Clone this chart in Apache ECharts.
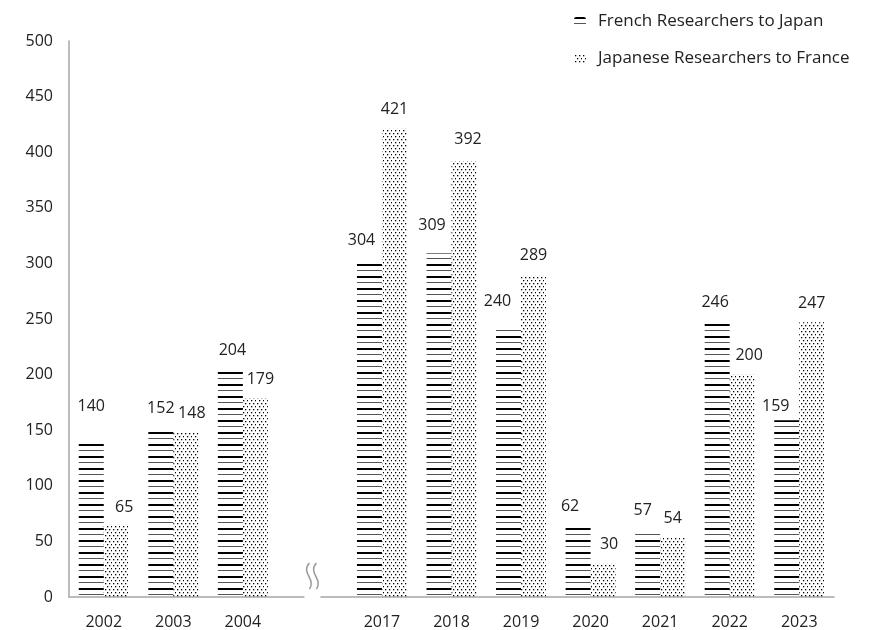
<!DOCTYPE html>
<html>
<head>
<meta charset="utf-8">
<script src="https://cdn.jsdelivr.net/npm/echarts@6/dist/echarts.min.js"></script>
<style>
  html, body { margin: 0; padding: 0; background: #fff; }
  #main { width: 870px; height: 630px; }
</style>
</head>
<body>
<div id="main"></div>
<script>
// years, the empty slot is where the axis break goes
const years = ["2002", "2003", "2004", "", "2017", "2018", "2019", "2020", "2021", "2022", "2023"];
const frenchToJapan = [140, 152, 204, null, 304, 309, 240, 62, 57, 246, 159];
const japaneseToFrance = [65, 148, 179, null, 421, 392, 289, 30, 54, 200, 247];
const seriesNames = ["French Researchers to Japan", "Japanese Researchers to France"];
const breakIndex = 3;

// the value labels were moved by hand in the original, [dx, dy] from bar top centre
const frenchLabelNudge = [[0, -35], [0, -20], [2, -20], null, [-8, -19], [-7, -28], [-11, -29], [-8, -22], [-5, -23], [-2, -21], [-11, -14]];
const japaneseLabelNudge = [[8, -17], [6, -19], [5, -19], null, [0, -19], [4, -22], [0, -20], [6, -19], [0, -19], [7, -19], [0, -19]];

const FONT = "Open Sans";

// horizontal line fill (thick / thin lines alternating)
function makeLines() {
  const c = document.createElement("canvas");
  c.width = 8;
  c.height = 12;
  const ctx = c.getContext("2d");
  ctx.fillStyle = "#000";
  ctx.fillRect(0, 0, 8, 2);
  ctx.fillStyle = "#555";
  ctx.fillRect(0, 6, 8, 1);
  return c;
}

// staggered dot fill
function makeDots() {
  const c = document.createElement("canvas");
  c.width = 8;
  c.height = 6;
  const ctx = c.getContext("2d");
  ctx.fillStyle = "#000";
  [[1, 1], [5, 1], [3, 4], [7, 4]].forEach((p) => {
    ctx.fillRect(p[0], p[1], 1.3, 1.3);
  });
  return c;
}

function withLabels(values, nudges) {
  return values.map((v, i) => {
    if (v == null) return null;
    const n = nudges[i] || [0, -19];
    // label box is 16px tall and sits on the bar top, so shift by half of it
    return { value: v, label: { offset: [n[0], n[1] + 8] } };
  });
}

const chart = echarts.init(document.getElementById("main"));

const labelStyle = {
  show: true,
  position: "top",
  distance: 0,
  color: "#222",
  fontFamily: FONT,
  fontSize: 16,
  lineHeight: 16,
};

chart.setOption({
  animation: false,
  backgroundColor: "#fff",
  grid: { left: 69, right: 36, top: 41, bottom: 33 },
  legend: {
    orient: "vertical",
    left: 569,
    top: 8,
    itemGap: 20,
    itemWidth: 12,
    itemHeight: 9,
    textStyle: { fontFamily: FONT, fontSize: 17, color: "#222", padding: [0, 0, 0, 7] },
    data: seriesNames,
  },
  xAxis: {
    type: "category",
    data: years,
    axisLine: { lineStyle: { color: "#a6a6a6", width: 1.5 } },
    axisTick: { show: false },
    axisLabel: { color: "#222", fontFamily: FONT, fontSize: 16, margin: 17 },
  },
  yAxis: {
    type: "value",
    min: 0,
    max: 500,
    interval: 50,
    axisLine: { show: true, lineStyle: { color: "#a6a6a6", width: 1.5 } },
    axisTick: { show: false },
    splitLine: { show: false },
    axisLabel: { color: "#222", fontFamily: FONT, fontSize: 16, margin: 16 },
  },
  series: [
    {
      name: seriesNames[0],
      type: "bar",
      data: withLabels(frenchToJapan, frenchLabelNudge),
      barWidth: 25,
      barGap: "0%",
      itemStyle: { color: { image: makeLines(), repeat: "repeat" } },
      label: labelStyle,
    },
    {
      name: seriesNames[1],
      type: "bar",
      data: withLabels(japaneseToFrance, japaneseLabelNudge),
      barWidth: 25,
      itemStyle: { color: { image: makeDots(), repeat: "repeat" } },
      label: labelStyle,
    },
  ],
});

// axis break mark drawn in the empty slot
const base = chart.convertToPixel({ yAxisIndex: 0 }, 0);
const bx = chart.convertToPixel({ xAxisIndex: 0 }, breakIndex);
function wave(x0) {
  return {
    type: "bezierCurve",
    shape: {
      x1: x0 + 3, y1: base - 34,
      x2: x0 + 3, y2: base - 8,
      cpx1: x0 - 6, cpy1: base - 24,
      cpx2: x0 + 10, cpy2: base - 18,
    },
    style: { stroke: "#999", lineWidth: 1.5, fill: null },
    z: 10,
  };
}
chart.setOption({
  graphic: [
    {
      type: "rect",
      shape: { x: bx - 8, y: base - 3, width: 16, height: 6 },
      style: { fill: "#fff" },
      z: 9,
    },
    wave(bx - 6),
    wave(bx + 1),
  ],
});
</script>
</body>
</html>
